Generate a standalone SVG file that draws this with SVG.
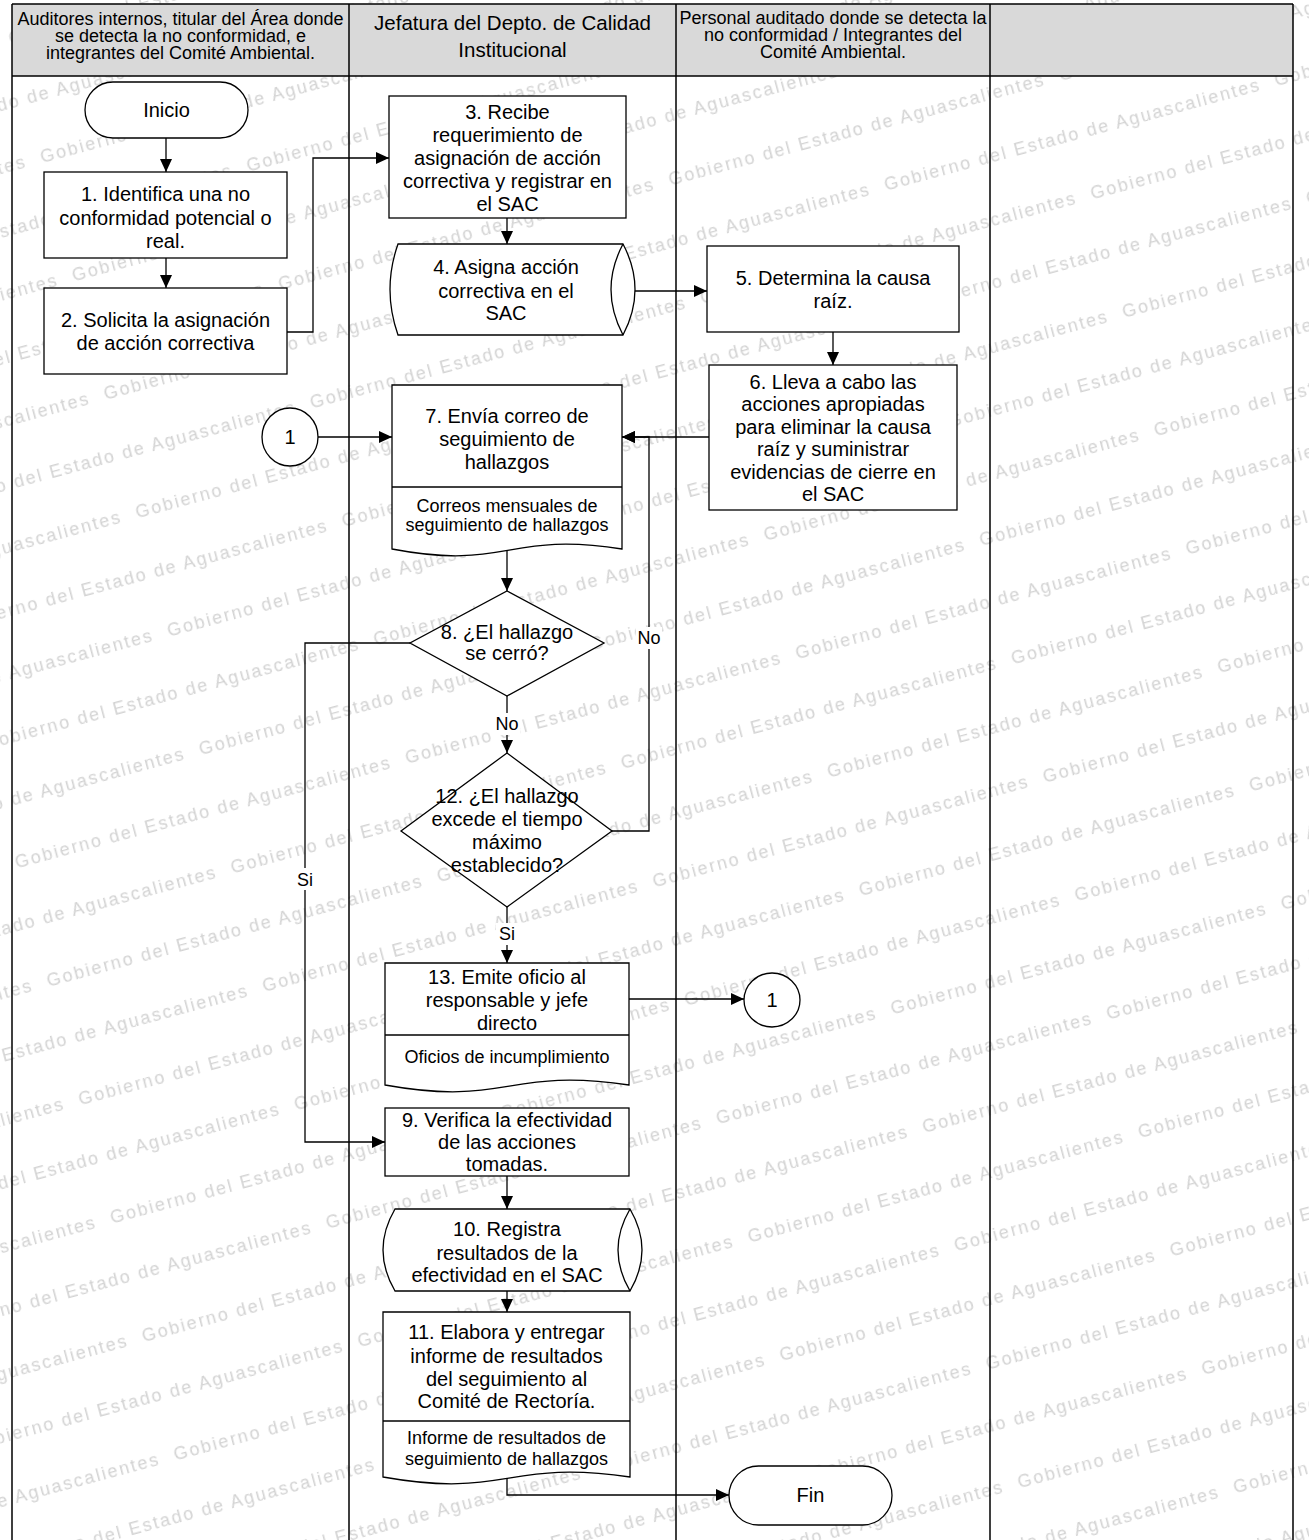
<svg xmlns="http://www.w3.org/2000/svg" width="1309" height="1540" viewBox="0 0 1309 1540">
<defs>
<style>
.wm { font-family: "Liberation Sans", Arial, sans-serif; font-size: 18px; letter-spacing: 2px; fill: #d3d3d3; }
.hdr { fill: #d9d9d9; stroke: none; }
.lane { stroke: #000; stroke-width: 1.5; fill: none; }
.shape { fill: #fff; stroke: #000; stroke-width: 1.3; }
.line { fill: none; stroke: #000; stroke-width: 1.3; }
.conn { fill: none; stroke: #000; stroke-width: 1.3; marker-end: url(#arr); }
.t { font-family: "Liberation Sans", Arial, sans-serif; font-size: 20px; fill: #000; text-anchor: middle; }
.ts { font-family: "Liberation Sans", Arial, sans-serif; font-size: 18px; fill: #000; text-anchor: middle; }
.th { font-family: "Liberation Sans", Arial, sans-serif; font-size: 18px; fill: #000; text-anchor: middle; }
.th2 { font-family: "Liberation Sans", Arial, sans-serif; font-size: 20.5px; fill: #000; text-anchor: middle; }
.lbg { fill: #fff; stroke: none; }
</style>
<marker id="arr" markerWidth="14" markerHeight="12" refX="13" refY="6" orient="auto" markerUnits="userSpaceOnUse">
<path d="M0,0 L13,6 L0,12 z" fill="#000"/>
</marker>
<pattern id="wmp" patternUnits="userSpaceOnUse" x="0" y="0" width="404" height="122.6" patternTransform="rotate(-15)">
<g class="wm">
<text x="-208.4" y="107.2">Gobierno del Estado de Aguascalientes</text>
<text x="195.6" y="107.2">Gobierno del Estado de Aguascalientes</text>
<text x="-1.4" y="45.9">Gobierno del Estado de Aguascalientes</text>
<text x="402.6" y="45.9">Gobierno del Estado de Aguascalientes</text>
</g>
</pattern>
</defs>

<g id="watermark">
<rect x="0" y="0" width="1309" height="1540" fill="url(#wmp)"/>
</g>

<g id="lanes">
<rect class="hdr" x="12" y="4" width="1281" height="72"/>
<path class="lane" d="M12,4 H1293 M12,76 H1293 M12,4 V1540 M349,4 V1540 M676,4 V1540 M990,4 V1540 M1293,4 V1540"/>
<text class="th"><tspan x="180.5" y="25">Auditores internos, titular del Área donde</tspan><tspan x="180.5" y="42">se detecta la no conformidad, e</tspan><tspan x="180.5" y="59">integrantes del Comité Ambiental.</tspan></text>
<text class="th2"><tspan x="512.5" y="30">Jefatura del Depto. de Calidad</tspan><tspan x="512.5" y="57">Institucional</tspan></text>
<text class="th"><tspan x="833" y="24">Personal auditado donde se detecta la</tspan><tspan x="833" y="41">no conformidad / Integrantes del</tspan><tspan x="833" y="58">Comité Ambiental.</tspan></text>
</g>

<g id="connectors">
<path class="conn" d="M166,138 V172"/>
<path class="conn" d="M166,258 V288"/>
<path class="conn" d="M287,332 H313 V158 H389"/>
<path class="conn" d="M507,218 V244"/>
<path class="conn" d="M635,291 H707"/>
<path class="conn" d="M833,332 V365"/>
<path class="conn" d="M709,437 H622"/>
<path class="conn" d="M318,437 H392"/>
<path class="conn" d="M507,550 V591"/>
<path class="conn" d="M410,643 H305 V1142 H385"/>
<path class="conn" d="M507,696 V753"/>
<path class="conn" d="M612,831 H649 V437 H622"/>
<path class="conn" d="M507,907 V963"/>
<path class="conn" d="M629,999 H744"/>
<path class="conn" d="M507,1176 V1209"/>
<path class="conn" d="M507,1291 V1312"/>
<path class="conn" d="M507,1478 V1495 H729"/>
<rect class="lbg" x="294" y="868" width="22" height="22"/>
<text class="ts" x="305" y="886">Si</text>
<rect class="lbg" x="494" y="713" width="26" height="22"/>
<text class="ts" x="507" y="730">No</text>
<rect class="lbg" x="636" y="627" width="26" height="22"/>
<text class="ts" x="649" y="644">No</text>
<rect class="lbg" x="496" y="923" width="22" height="22"/>
<text class="ts" x="507" y="940">Si</text>
</g>

<g id="inicio">
<rect class="shape" x="85" y="82" width="163" height="56" rx="28" ry="28"/>
<text class="t" x="166.5" y="117">Inicio</text>
</g>

<g id="n1">
<rect class="shape" x="44" y="172" width="243" height="86"/>
<text class="t"><tspan x="165.5" y="201">1. Identifica una no</tspan><tspan x="165.5" y="225">conformidad potencial o</tspan><tspan x="165.5" y="248">real.</tspan></text>
</g>

<g id="n2">
<rect class="shape" x="44" y="288" width="243" height="86"/>
<text class="t"><tspan x="165.5" y="327">2. Solicita la asignación</tspan><tspan x="165.5" y="350">de acción correctiva</tspan></text>
</g>

<g id="n3">
<rect class="shape" x="389" y="96" width="237" height="122"/>
<text class="t"><tspan x="507.5" y="119">3. Recibe</tspan><tspan x="507.5" y="142">requerimiento de</tspan><tspan x="507.5" y="165">asignación de acción</tspan><tspan x="507.5" y="188">correctiva y registrar en</tspan><tspan x="507.5" y="211">el SAC</tspan></text>
</g>

<g id="n4">
<path class="shape" d="M398,244 H623 Q647,289.5 623,335 H398 Q382,289.5 398,244 Z"/>
<path class="line" d="M623,244 Q599,289.5 623,335"/>
<text class="t"><tspan x="506" y="274">4. Asigna acción</tspan><tspan x="506" y="298">correctiva en el</tspan><tspan x="506" y="320">SAC</tspan></text>
</g>

<g id="n5">
<rect class="shape" x="707" y="246" width="252" height="86"/>
<text class="t"><tspan x="833" y="285">5. Determina la causa</tspan><tspan x="833" y="308">raíz.</tspan></text>
</g>

<g id="n6">
<rect class="shape" x="709" y="365" width="248" height="145"/>
<text class="t"><tspan x="833" y="389">6. Lleva a cabo las</tspan><tspan x="833" y="411">acciones apropiadas</tspan><tspan x="833" y="434">para eliminar la causa</tspan><tspan x="833" y="456">raíz y suministrar</tspan><tspan x="833" y="479">evidencias de cierre en</tspan><tspan x="833" y="501">el SAC</tspan></text>
</g>

<g id="c1a">
<ellipse class="shape" cx="290" cy="437" rx="28" ry="29"/>
<text class="t" x="290" y="444">1</text>
</g>

<g id="n7">
<path class="shape" d="M392,385 H622 V549 C507,531 507,571 392,549 Z"/>
<path class="line" d="M392,487 H622"/>
<text class="t"><tspan x="507" y="423">7. Envía correo de</tspan><tspan x="507" y="446">seguimiento de</tspan><tspan x="507" y="469">hallazgos</tspan></text>
<text class="ts"><tspan x="507" y="512">Correos mensuales de</tspan><tspan x="507" y="531">seguimiento de hallazgos</tspan></text>
</g>

<g id="n8">
<polygon class="shape" points="507,591 604,643 507,696 410,643"/>
<text class="t"><tspan x="507" y="639">8. ¿El hallazgo</tspan><tspan x="507" y="660">se cerró?</tspan></text>
</g>

<g id="n12">
<polygon class="shape" points="507,753 612,831 507,907 401,831"/>
<text class="t"><tspan x="507" y="803">12. ¿El hallazgo</tspan><tspan x="507" y="826">excede el tiempo</tspan><tspan x="507" y="849">máximo</tspan><tspan x="507" y="872">establecido?</tspan></text>
</g>

<g id="n13">
<path class="shape" d="M385,963 H629 V1085 C507,1067 507,1107 385,1085 Z"/>
<path class="line" d="M385,1035 H629"/>
<text class="t"><tspan x="507" y="984">13. Emite oficio al</tspan><tspan x="507" y="1007">responsable y jefe</tspan><tspan x="507" y="1030">directo</tspan></text>
<text class="ts" x="507" y="1063">Oficios de incumplimiento</text>
</g>

<g id="c1b">
<ellipse class="shape" cx="772" cy="1000" rx="28" ry="27"/>
<text class="t" x="772" y="1007">1</text>
</g>

<g id="n9">
<rect class="shape" x="385" y="1108" width="244" height="68"/>
<text class="t"><tspan x="507" y="1127">9. Verifica la efectividad</tspan><tspan x="507" y="1149">de las acciones</tspan><tspan x="507" y="1171">tomadas.</tspan></text>
</g>

<g id="n10">
<path class="shape" d="M395,1209 H630 Q654,1250 630,1291 H395 Q371,1250 395,1209 Z"/>
<path class="line" d="M630,1209 Q606,1250 630,1291"/>
<text class="t"><tspan x="507" y="1236">10. Registra</tspan><tspan x="507" y="1260">resultados de la</tspan><tspan x="507" y="1282">efectividad en el SAC</tspan></text>
</g>

<g id="n11">
<path class="shape" d="M383,1312 H630 V1477 C506.5,1459 506.5,1499 383,1477 Z"/>
<path class="line" d="M383,1421 H630"/>
<text class="t"><tspan x="506.5" y="1339">11. Elabora y entregar</tspan><tspan x="506.5" y="1363">informe de resultados</tspan><tspan x="506.5" y="1386">del seguimiento al</tspan><tspan x="506.5" y="1408">Comité de Rectoría.</tspan></text>
<text class="ts"><tspan x="506.5" y="1444">Informe de resultados de</tspan><tspan x="506.5" y="1465">seguimiento de hallazgos</tspan></text>
</g>

<g id="fin">
<rect class="shape" x="729" y="1466" width="163" height="59" rx="29.5" ry="29.5"/>
<text class="t" x="810.5" y="1502">Fin</text>
</g>
</svg>
